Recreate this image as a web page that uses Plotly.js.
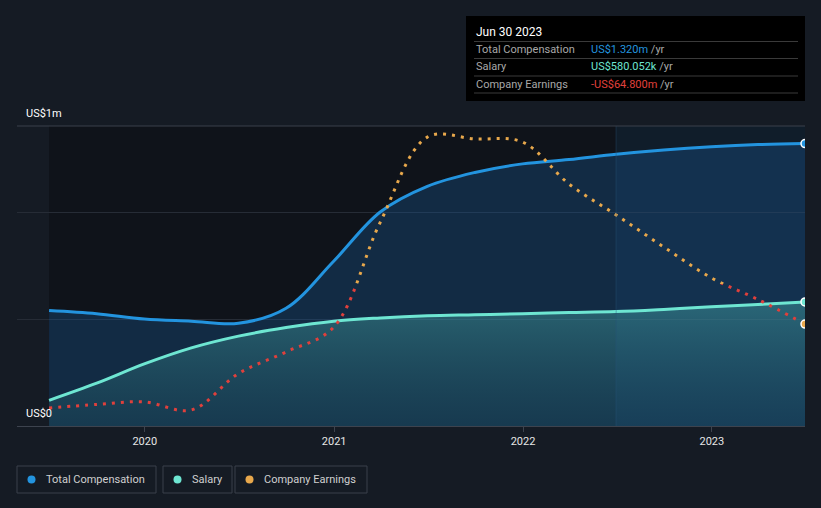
<!DOCTYPE html>
<html>
<head>
<meta charset="utf-8">
<script src="https://cdn.plot.ly/plotly-3.0.1.min.js"></script>
<style>
  html, body { margin: 0; padding: 0; background: #151b24; }
  #chart { width: 821px; height: 508px; }
</style>
</head>
<body>
<div id="chart"></div>
<script>
// quarter ends, values in US$ millions
var dates = ['2019-06-30', '2019-09-30', '2019-12-31', '2020-03-31', '2020-06-30',
  '2020-09-30', '2020-12-31', '2021-03-31', '2021-06-30', '2021-09-30',
  '2021-12-31', '2022-03-31', '2022-06-30', '2022-09-30', '2022-12-31',
  '2023-03-31', '2023-06-30'];
var totalComp = [0.54, 0.525, 0.50, 0.49, 0.48, 0.55, 0.77, 1.0, 1.12, 1.185,
  1.225, 1.245, 1.27, 1.29, 1.305, 1.315, 1.32];
var salary = [0.12, 0.20, 0.29, 0.365, 0.42, 0.46, 0.49, 0.505, 0.515, 0.52,
  0.525, 0.53, 0.535, 0.545, 0.557, 0.568, 0.580052];
var earnings = [-201, -195, -191, -204, -145, -110, -70, 100, 238, 235,
  230, 162, 112, 60, 10, -25, -64.8];
var yearTicks = ['2020-01-01', '2021-01-01', '2022-01-01', '2023-01-01'];
var yearLabels = ['2020', '2021', '2022', '2023'];

var xRange = ['2019-04-29', '2023-06-30'];
var compRange = [0, 1.402];
var earnRange = [-230, 256];
var zeroFrac = -earnRange[0] / (earnRange[1] - earnRange[0]);

var blue = '#2394df', teal = '#6ee6d2', orange = '#e8a84c', red = '#e0403c';
var last = dates.length - 1;

// pixel -> paper helpers (plot area 17..805 x 126..426)
function px(x) { return (x - 17) / 788; }
function py(y) { return (426 - y) / 300; }

var data = [
  {
    x: dates, y: totalComp, type: 'scatter', mode: 'lines',
    line: {color: blue, width: 3, shape: 'spline'},
    fill: 'tozeroy', fillcolor: 'rgba(27,90,150,0.35)', hoverinfo: 'skip'
  },
  {
    x: dates, y: salary, type: 'scatter', mode: 'lines',
    line: {color: teal, width: 3, shape: 'spline'},
    fill: 'tozeroy',
    fillgradient: {type: 'vertical', colorscale: [[0, 'rgba(40,110,120,0.22)'], [1, 'rgba(80,190,185,0.38)']]},
    hoverinfo: 'skip'
  },
  {
    x: [dates[last]], y: [totalComp[last]], type: 'scatter', mode: 'markers',
    marker: {color: blue, size: 8, line: {color: '#ffffff', width: 1.5}}, hoverinfo: 'skip'
  },
  {
    x: [dates[last]], y: [salary[last]], type: 'scatter', mode: 'markers',
    marker: {color: teal, size: 8, line: {color: '#ffffff', width: 1.5}}, hoverinfo: 'skip'
  },
  // earnings below zero (red) and above zero (orange)
  {
    x: dates, y: earnings, type: 'scatter', mode: 'lines', xaxis: 'x2', yaxis: 'y2',
    line: {color: red, width: 3, shape: 'spline', dash: '3px,6px'}, hoverinfo: 'skip'
  },
  {
    x: dates, y: earnings, type: 'scatter', mode: 'lines', xaxis: 'x3', yaxis: 'y3',
    line: {color: orange, width: 3, shape: 'spline', dash: '3px,6px'}, hoverinfo: 'skip'
  },
  {
    x: [dates[last]], y: [earnings[last]], type: 'scatter', mode: 'markers', xaxis: 'x2', yaxis: 'y2',
    marker: {color: orange, size: 8, line: {color: '#ffffff', width: 1.5}}, hoverinfo: 'skip'
  }
];

var shapes = [
  {type: 'rect', xref: 'paper', yref: 'paper', x0: px(49), x1: px(617), y0: 0, y1: 1,
    fillcolor: '#0f131a', line: {width: 0}, layer: 'below'},
  {type: 'rect', xref: 'paper', yref: 'paper', x0: px(617), x1: 1, y0: 0, y1: 1,
    fillcolor: '#101d2a', line: {width: 0}, layer: 'below'},
  {type: 'line', xref: 'x', yref: 'paper', x0: '2022-06-30', x1: '2022-06-30', y0: 0, y1: 1,
    line: {color: 'rgba(40,90,130,0.45)', width: 1}, layer: 'above'},
  {type: 'line', xref: 'paper', yref: 'paper', x0: 0, x1: 1, y0: 1, y1: 1,
    line: {color: '#3b414b', width: 1}},
  // tooltip box
  {type: 'rect', xref: 'paper', yref: 'paper', x0: px(466), x1: px(805), y0: py(101), y1: py(16),
    fillcolor: '#000000', line: {width: 0}}
];
[41.5, 58.5, 76, 93].forEach(function (y) {
  shapes.push({type: 'line', xref: 'paper', yref: 'paper', x0: px(474), x1: px(798), y0: py(y), y1: py(y),
    line: {color: '#3a3a3a', width: 1}});
});

// legend boxes
var legendItems = [
  {name: 'Total Compensation', color: blue, x0: 17, x1: 156},
  {name: 'Salary', color: teal, x0: 163, x1: 232},
  {name: 'Company Earnings', color: orange, x0: 235, x1: 367}
];

var annotations = [
  {xref: 'paper', yref: 'paper', x: px(24), y: py(114), text: 'US$1m', showarrow: false,
    xanchor: 'left', yanchor: 'middle', font: {color: '#ffffff', size: 11}},
  {xref: 'paper', yref: 'paper', x: px(24), y: py(413), text: 'US$0', showarrow: false,
    xanchor: 'left', yanchor: 'middle', font: {color: '#ffffff', size: 11}},
  {xref: 'paper', yref: 'paper', x: px(474), y: py(32), text: 'Jun 30 2023', showarrow: false,
    xanchor: 'left', yanchor: 'middle', font: {color: '#ffffff', size: 12}},
  {xref: 'paper', yref: 'paper', x: px(474), y: py(49.5), text: 'Total Compensation', showarrow: false,
    xanchor: 'left', yanchor: 'middle', font: {color: '#a8a8a8', size: 11}},
  {xref: 'paper', yref: 'paper', x: px(589), y: py(49.5), text: '<span style="color:' + blue + '">US$1.320m</span> /yr',
    showarrow: false, xanchor: 'left', yanchor: 'middle', font: {color: '#a8a8a8', size: 11}},
  {xref: 'paper', yref: 'paper', x: px(474), y: py(66.5), text: 'Salary', showarrow: false,
    xanchor: 'left', yanchor: 'middle', font: {color: '#a8a8a8', size: 11}},
  {xref: 'paper', yref: 'paper', x: px(589), y: py(66.5), text: '<span style="color:' + teal + '">US$580.052k</span> /yr',
    showarrow: false, xanchor: 'left', yanchor: 'middle', font: {color: '#a8a8a8', size: 11}},
  {xref: 'paper', yref: 'paper', x: px(474), y: py(84), text: 'Company Earnings', showarrow: false,
    xanchor: 'left', yanchor: 'middle', font: {color: '#a8a8a8', size: 11}},
  {xref: 'paper', yref: 'paper', x: px(589), y: py(84), text: '<span style="color:' + red + '">-US$64.800m</span> /yr',
    showarrow: false, xanchor: 'left', yanchor: 'middle', font: {color: '#a8a8a8', size: 11}}
];

legendItems.forEach(function (it) {
  shapes.push({type: 'rect', xref: 'paper', yref: 'paper', x0: px(it.x0), x1: px(it.x1), y0: py(493), y1: py(466),
    fillcolor: 'rgba(0,0,0,0)', line: {color: '#3a404a', width: 1}});
  shapes.push({type: 'circle', xref: 'paper', yref: 'paper', x0: px(it.x0 + 10.5), x1: px(it.x0 + 18.5),
    y0: py(483.5), y1: py(475.5), fillcolor: it.color, line: {width: 0}});
  annotations.push({xref: 'paper', yref: 'paper', x: px(it.x0 + 27), y: py(479.5), text: it.name, showarrow: false,
    xanchor: 'left', yanchor: 'middle', font: {color: '#d0d0d0', size: 11}});
});

var layout = {
  width: 821, height: 508,
  margin: {l: 17, r: 16, t: 126, b: 82},
  paper_bgcolor: '#151b24', plot_bgcolor: 'rgba(0,0,0,0)',
  font: {family: 'Roboto, "Liberation Sans", sans-serif', color: '#ffffff'},
  showlegend: false,
  xaxis: {
    type: 'date', range: xRange, tickvals: yearTicks, ticktext: yearLabels,
    showgrid: false, zeroline: false, showline: true, linecolor: '#3d434e', linewidth: 1,
    ticks: 'outside', ticklen: 5, tickcolor: '#3d434e',
    tickfont: {color: '#e6e6e6', size: 11}, fixedrange: true
  },
  yaxis: {
    range: compRange, tickvals: [0.5, 1.0], showticklabels: false,
    gridcolor: '#262c36', gridwidth: 1, zeroline: false, showline: false, fixedrange: true
  },
  xaxis2: {type: 'date', range: xRange, anchor: 'y2', visible: false, domain: [0, 1]},
  yaxis2: {range: [earnRange[0], 0], anchor: 'x2', domain: [0, zeroFrac], visible: false},
  xaxis3: {type: 'date', range: xRange, anchor: 'y3', visible: false, domain: [0, 1]},
  yaxis3: {range: [0, earnRange[1]], anchor: 'x3', domain: [zeroFrac, 1], visible: false},
  shapes: shapes,
  annotations: annotations
};

Plotly.newPlot('chart', data, layout, {displayModeBar: false, staticPlot: true});
</script>
</body>
</html>
